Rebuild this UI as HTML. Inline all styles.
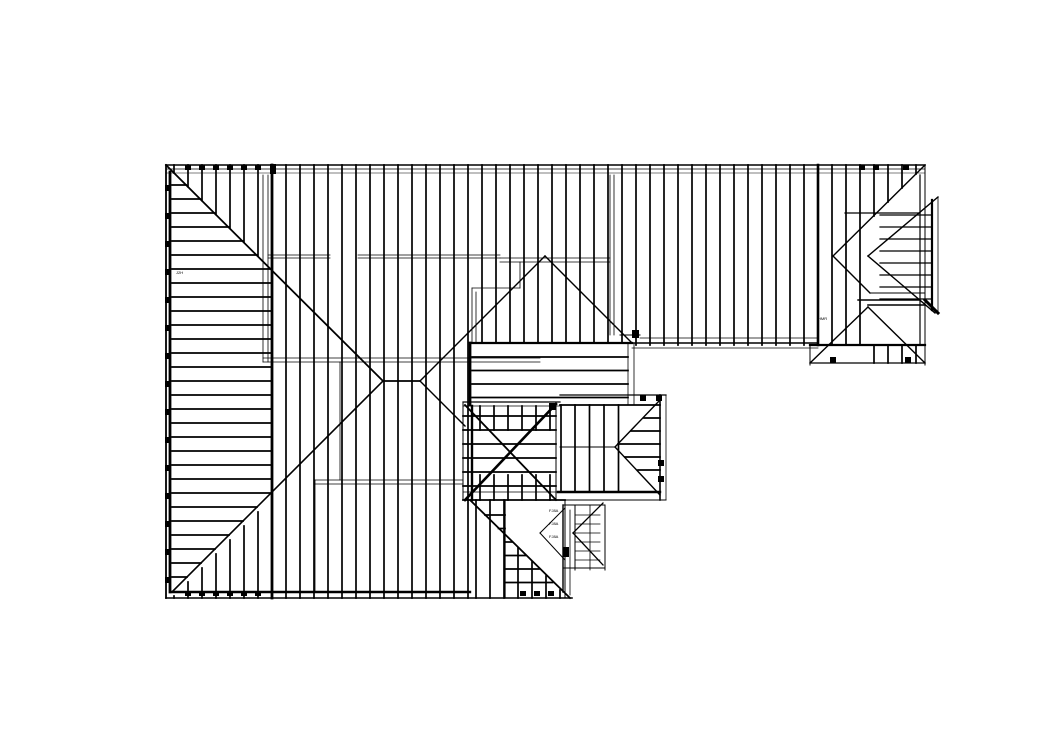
<!DOCTYPE html>
<html><head><meta charset="utf-8"><style>
html,body{margin:0;padding:0;background:#fff;width:1046px;height:730px;overflow:hidden}
svg{display:block}
text{font-family:"Liberation Sans",sans-serif;font-size:4px;fill:#000}
</style></head><body>
<svg id="s" width="1046" height="730" viewBox="0 0 1046 730" xmlns="http://www.w3.org/2000/svg">
<g id="g" stroke="#000" fill="none" stroke-width="1.7" stroke-linecap="square"></g>
<text x="176" y="274">J2H</text>
<text x="818" y="320">HMR</text>
<text x="549" y="512">FJ8A</text>
<text x="549" y="525">FJ8A</text>
<text x="549" y="538">FJ8A</text>
</svg>
<script>
var o=[];
function L(a,b,c,d,w){o.push('<line x1="'+a+'" y1="'+b+'" x2="'+c+'" y2="'+d+'"'+(w?' stroke-width="'+w+'"':'')+'/>');}
function R(x,y,w,h){o.push('<rect x="'+x+'" y="'+y+'" width="'+w+'" height="'+h+'" fill="#000" stroke="none"/>');}
L(166,165,925,165,1.6);L(166,169,925,169,0.8);L(166,173,925,173,0.6);
L(166,165,166,598,1.8);L(170,172,170,592,2.8);
L(166,598,572,598,1.6);L(172,592,470,592,2.4);
for(var x=174;x<=920;x+=14){
 if(x<272){L(x,165,x,165+(x-166)*0.99);L(x,598-(x-172),x,598);}
 else if(x<=470){L(x,165,x,598);}
 else if(x<632){L(x,165,x,343);}
 else if(x<818){L(x,165,x,345);}
 else if(x<868){L(x,165,x,345);}
 else {L(x,165,x,165+(925-x));L(x,345,x,363);}
}
L(272,165,272,598,2.8);
for(var y=185;y<=590;y+=14){
 var xe = y<381 ? 166+(y-165)/0.99 : 172+(592-y);
 xe=Math.min(272,xe);
 if(xe>172)L(172,y,xe,y);
}
L(166,165,383,381,1.8);L(383,381,420,381);L(172,592,383,381,1.6);
L(420,381,545,256,1.4);L(545,256,632,343,1.4);
L(420,381,465,426,1.4);
L(263,175,263,362,0.8);L(268,175,268,362,0.8);
L(263,362,540,362,0.8);L(263,358,540,358,0.8);
L(268,255,330,255,0.8);L(268,258,330,258,0.8);
L(358,255,500,255,0.8);L(358,258,500,258,0.8);
L(500,258,610,258,0.8);L(500,262,610,262,0.8);
L(520,262,520,288,0.8);L(472,288,520,288,0.8);L(472,288,472,343,0.8);L(476,292,476,343,0.8);
L(610,175,610,335,0.8);L(614,175,614,335,0.8);
L(340,362,340,480,0.8);L(315,480,463,480,0.8);L(315,484,463,484,0.8);L(315,480,315,592,0.8);
L(472,343,632,343,2.2);L(470,343,470,405,2.8);
for(var y=357;y<=405;y+=13.5)L(472,y,628,y);
L(628,343,628,405,0.8);L(634,343,634,405,0.8);
L(620,335,640,335,1);
L(463,402,560,402,1.2);L(463,406,560,406,0.8);L(463,402,463,500,1);L(472,406,472,500,2.4);L(556,402,556,500,1);
for(var y=416;y<=495;y+=14)L(463,y,556,y);
for(var x=480;x<556;x+=14){L(x,406,x,430);L(x,475,x,500);}
L(465,500,556,404,2.6);L(465,405,556,500,1.8);
L(463,500,565,500,1.8);L(463,492,565,492,0.8);
L(470,500,570,598,1.8);
for(var y=515;y<=590;y+=13.5){var xe=470+(y-500);L(505,y,xe,y);}
for(var x=476;x<=565;x+=14){var yt=500+(x-470);if(x<505)L(x,500,x,598);else L(x,yt,x,598);}
L(505,500,505,598,1.2);L(565,500,565,598,1);
L(560,395,666,395,1.2);L(560,405,660,405,1.8);L(660,395,660,500,1.6);L(666,395,666,500,0.8);
L(558,492,660,492,2.4);L(558,500,666,500,1);
for(var x=575;x<620;x+=14.5)L(x,405,x,492);L(561,405,561,492);
L(615,447,660,400,1.4);L(615,447,660,495,1.4);L(560,447,615,447,0.9);
for(var y=418;y<=480;y+=13){var d=Math.abs(y-447);L(615+d,y,660,y);}
L(563,505,605,505,1);L(605,505,605,570,1);L(563,568,605,568,1);L(575,505,575,570,1);L(590,505,590,570,0.8);
L(573,533,603,503,1.3);L(573,533,603,565,1.3);L(540,533,565,508,1);L(540,533,565,560,1);
for(var y=515;y<=560;y+=9)L(575,y,600,y,0.8);
L(563,505,563,592,1.4);L(570,510,570,595,0.8);
L(818,165,818,345,2.6);L(632,343,818,343,1.4);L(632,348,818,348,0.8);
L(640,338,818,338,0.8);
L(925,165,833,256,1.4);L(833,256,870,293,1.4);
L(938,197,868,256,1.4);L(868,256,935,313,1.4);L(938,197,938,313,0.8);
L(920,175,920,345,1.2);L(932,200,932,310,2.2);
for(var y=215;y<=300;y+=12){L(880,y,932,y,1.2);}
L(845,213,920,213,1.2);L(858,300,920,300,1.4);L(870,293,925,293,1);L(868,305,925,305,1.6);
L(810,363,868,307,1.4);L(868,307,925,363,1.4);
L(810,345,925,345,2.2);L(810,363,925,363,1.2);L(810,345,810,365,1);L(925,345,925,365,1);L(925,165,925,345,1);
L(925,300,938,313,3);
[188,202,216,230,244,258].forEach(function(x){R(x-3,165,6,5);R(x-3,591,6,5);});
R(270,164,6,10);
for(var y=185;y<=590;y+=28)R(165,y,6,6);
[523,537,551].forEach(function(x){R(x-3,591,6,5)});
[862,876,906].forEach(function(x){R(x-3,165,6,5)});
R(632,330,7,8);R(640,395,6,6);R(656,395,6,6);R(658,460,6,6);R(658,476,6,6);R(549,403,7,7);R(563,547,6,10);
R(830,357,6,6);R(905,357,6,6);
document.getElementById('g').innerHTML=o.join('');
</script>
</body></html>
